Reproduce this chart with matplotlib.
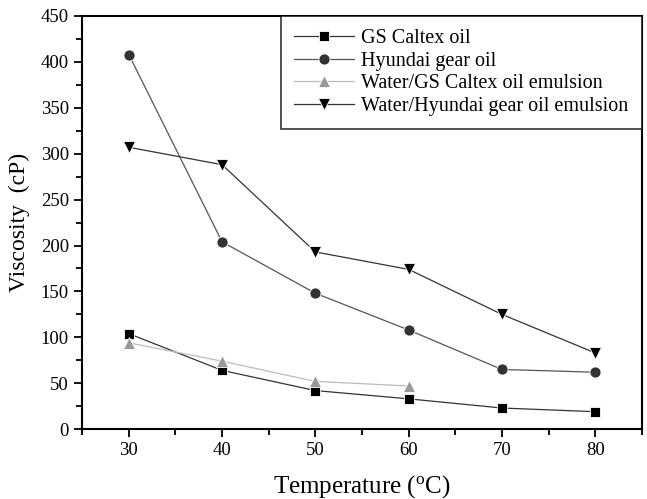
import matplotlib.pyplot as plt
from matplotlib.ticker import MultipleLocator

plt.rcParams['font.family'] = ['Liberation Serif', 'DejaVu Serif']

# Viscosity vs temperature for oils and emulsions
temp = [30, 40, 50, 60, 70, 80]
gs_caltex = [104, 64, 42, 33, 23, 19]
hyundai = [408, 204, 148, 108, 65, 62]
temp_emul_gs = [30, 40, 50, 60]
water_gs = [94, 74, 52, 47]
water_hyundai = [307, 288, 193, 174, 125, 83]

fig = plt.figure(figsize=(6.47, 4.99), dpi=100)
ax = fig.add_axes([0.127, 0.140, 0.865, 0.828])

ax.plot(temp, gs_caltex, color='#333333', lw=0.9, marker='s', ms=7,
        mfc='black', mec='white', mew=0.6, label='GS Caltex oil')
ax.plot(temp, hyundai, color='#555555', lw=0.9, marker='o', ms=8,
        mfc='#333333', mec='white', mew=0.6, label='Hyundai gear oil')
ax.plot(temp_emul_gs, water_gs, color='#bbbbbb', lw=0.9, marker='^', ms=9,
        mfc='#999999', mec='white', mew=0.6, label='Water/GS Caltex oil emulsion')
ax.plot(temp, water_hyundai, color='#333333', lw=0.9, marker='v', ms=9,
        mfc='black', mec='white', mew=0.6, label='Water/Hyundai gear oil emulsion')

ax.set_xlim(25, 85)
ax.set_ylim(0, 450)
ax.xaxis.set_major_locator(MultipleLocator(10))
ax.xaxis.set_minor_locator(MultipleLocator(5))
ax.yaxis.set_major_locator(MultipleLocator(50))
ax.yaxis.set_minor_locator(MultipleLocator(25))
ax.tick_params(which='major', direction='out', length=6, width=1.3, labelsize=13.5)
ax.tick_params(which='minor', direction='out', length=4, width=1.3)
for s in ax.spines.values():
    s.set_linewidth(1.5)

ax.set_xlabel('Temperature ($\\mathregular{^{o}}$C)', fontsize=18, labelpad=10)
ax.set_ylabel('Viscosity  (cP)', fontsize=17, labelpad=8)

leg = ax.legend(loc='upper right', fontsize=14.5, frameon=True, fancybox=False,
                edgecolor='black', borderaxespad=0, handlelength=3.0,
                labelspacing=0.17, borderpad=0.65, handletextpad=0.35)
leg.get_frame().set_linewidth(1.2)

fig.savefig('out.png', dpi=100)
